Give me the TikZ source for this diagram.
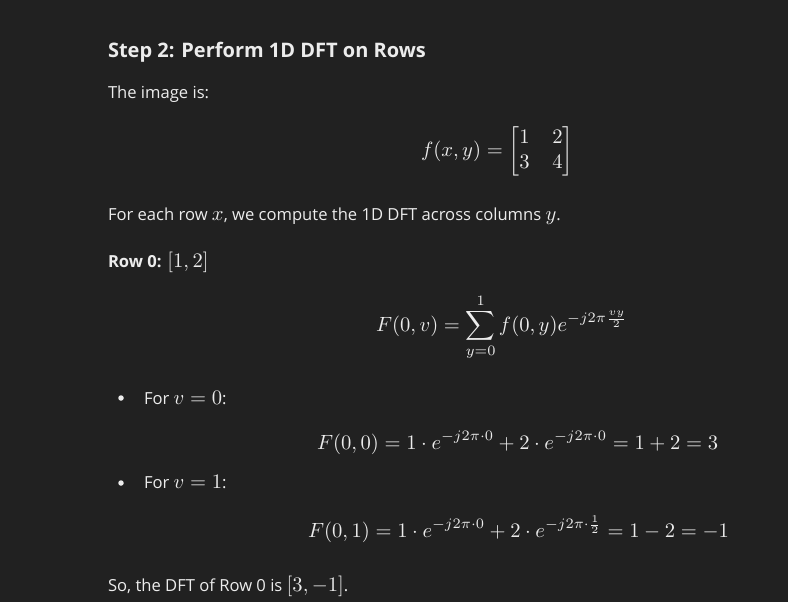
\RequirePackage{fix-cm}
\documentclass[tikz,border=0pt]{standalone}
\usepackage{amsmath}
\usepackage{graphicx}
\usepackage{fontspec}
\newfontfamily\ui{Open Sans}
\definecolor{bg}{HTML}{212121}
\definecolor{fg}{HTML}{ECECEC}
\newcommand{\kscale}{2.06}
\newcommand{\mth}[1]{{\fontsize{10}{12}\selectfont\scalebox{\kscale}{$#1$}}}
\newcommand{\dmth}[1]{{\fontsize{10}{12}\selectfont\scalebox{\kscale}{$\displaystyle #1$}}}
\tikzset{
  txt/.style={inner sep=0pt, outer sep=0pt, text=fg, anchor=base west, font=\ui\fontsize{16.6}{20}\selectfont},
  ttl/.style={txt, font=\ui\bfseries\fontsize{20}{24}\selectfont},
  eq/.style={inner sep=0pt, outer sep=0pt, text=fg, anchor=base west},
  bul/.style={circle, fill=fg, inner sep=0pt, minimum size=5.5pt}
}
\begin{document}
\begin{tikzpicture}[x=1pt,y=-1pt]
\fill[bg] (0,0) rectangle (788,602);
\useasboundingbox (0,0) rectangle (788,602);
\node[ttl] (title) at (108,58) {Step 2: Perform 1D DFT on Rows};
\node[txt] (intro) at (108,99) {The image is:};
\node[eq, anchor=west] (mat) at (421,151) {\dmth{f(x,y)=\begin{bmatrix}1&\hspace{0.1em}2\\3&\hspace{0.1em}4\end{bmatrix}}};
\node[txt] (each) at (108,220) {For each row \mth{x}, we compute the 1D DFT across columns \mth{y}.};
\node[txt] (row) at (108,267) {\bfseries Row 0: \mdseries\mth{[1,2]}};
\node[eq] (sum) at (376,331) {\dmth{F(0,v)=\sum_{y=0}^{1} f(0,y)e^{-j2\pi\frac{vy}{2}}}};
\node[bul] (b1) at (121,398) {};
\node[txt] (v0) at (144,404) {For \mth{v=0}:};
\node[eq] (e0) at (317,449) {\dmth{F(0,0)=1\cdot e^{-j2\pi\cdot0}+2\cdot e^{-j2\pi\cdot0}=1+2=3}};
\node[bul] (b2) at (121,483) {};
\node[txt] (v1) at (144,488) {For \mth{v=1}:};
\node[eq] (e1) at (308,537) {\dmth{F(0,1)=1\cdot e^{-j2\pi\cdot0}+2\cdot e^{-j2\pi\cdot\frac{1}{2}}=1-2=-1}};
\node[txt] (so) at (108,591) {So, the DFT of Row 0 is \mth{[3,-1]}.};
\end{tikzpicture}
\end{document}
